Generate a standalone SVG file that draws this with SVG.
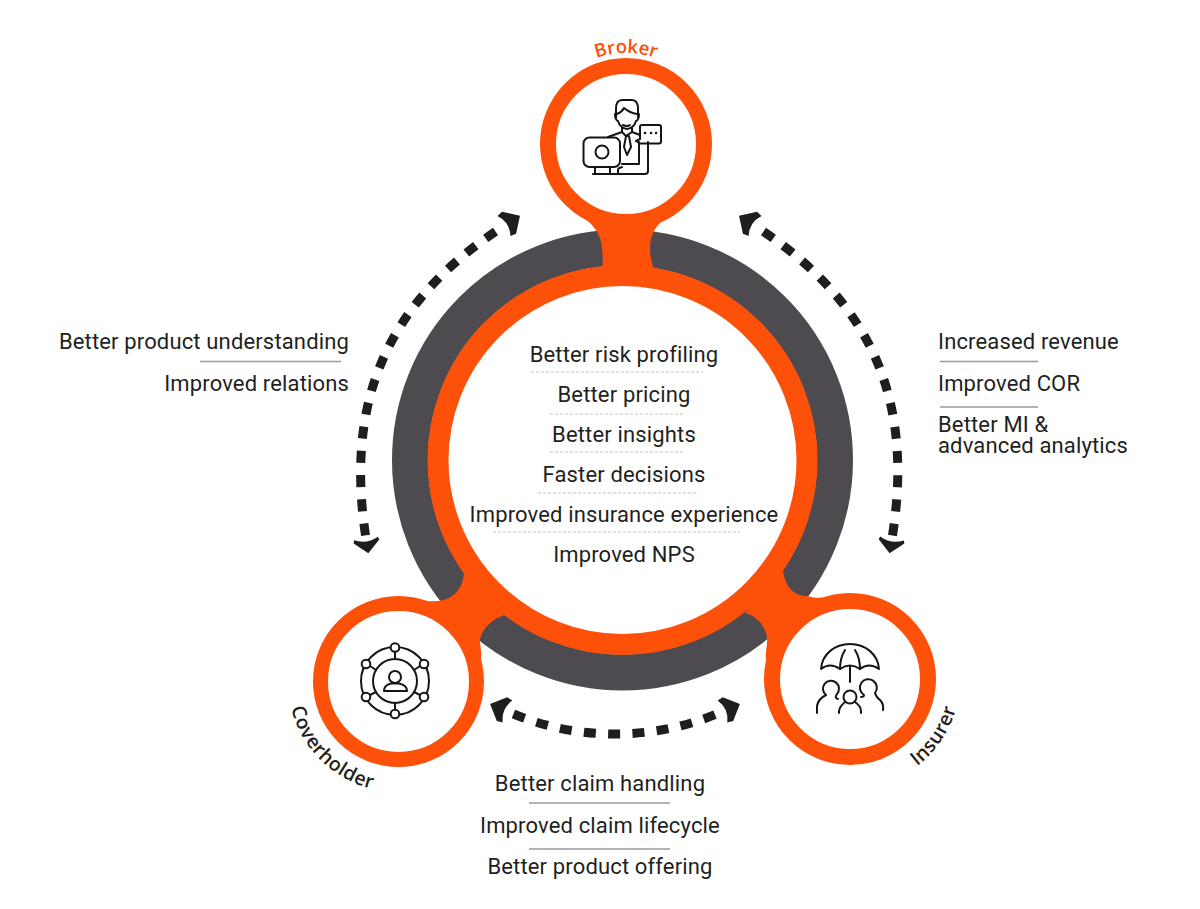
<svg xmlns="http://www.w3.org/2000/svg" width="1200" height="909" viewBox="0 0 1200 909">
<style>
text{font-family:Roboto,"Liberation Sans",sans-serif;font-size:22px;fill:#1f1f21;letter-spacing:.15px}
.c{text-anchor:middle}.e{text-anchor:end}
.lab{font-family:"Open Sans","Liberation Sans",sans-serif;font-size:19.500px;font-weight:600;text-anchor:middle;letter-spacing:.4px}
.rule{stroke:#9a999c;stroke-width:1.6;fill:none}
.dot{stroke:#c4c4c4;stroke-width:1;stroke-dasharray:3 2;fill:none}
.ico{fill:none;stroke:#151515;stroke-width:2;stroke-linecap:round;stroke-linejoin:round}
.ring{fill:#fff;stroke:#fd5009}
.neck{fill:#fd5009}
.flow{fill:none;stroke:#1f1d1e;stroke-width:9;stroke-dasharray:12 12.300;marker-start:url(#head);marker-end:url(#head)}
.flow.down{marker-end:url(#headS)}
</style>
<defs>
<marker id="head" markerUnits="userSpaceOnUse" markerWidth="36" markerHeight="34" viewBox="-8 -17 36 34" refX="0" refY="0" orient="auto-start-reverse">
<path d="M0,-12 L6,-13 L19,0 L6,13 L0,12 Q7,0 0,-12Z" fill="#1f1d1e"/>
</marker>
<marker id="headS" markerUnits="userSpaceOnUse" markerWidth="36" markerHeight="34" viewBox="-8 -17 36 34" refX="0" refY="0" orient="auto-start-reverse">
<path d="M0,-12 L3,-13 L15,0 L3,13 L0,12 Q6,0 0,-12Z" fill="#1f1d1e"/>
</marker>
<path id="pb" d="M535,144 A91,91 0 0 1 717,144"/>
<path id="pc" d="M288,682 A110,110 0 0 0 398,792"/>
<path id="pi" d="M869.100,787.300 A110,110 0 0 0 957.600,656.100"/>
</defs>

<g id="hub">
<circle cx="622.500" cy="460" r="212.500" fill="none" stroke="#4d4b4f" stroke-width="36"/>
<path class="neck" d="M583,217 C594,225 602,236 602,249 C603,256 603,263 602,270 L654,270 C652,263 650,256 650,249 C650,236 654,228 664,219Z"/>
<path class="neck" d="M423,600 C428,602 432,601 437,601 C452,600 464,590 464,570 L507,615 C495,616 482,628 480,640 C480,646 482,652 481,660Z"/>
<path class="neck" d="M823,597 C818,599 812,597 807,596 C795,596 785,588 783,570 L745,613 C757,616 765,626 767,637 C768,645 765,650 766,660Z"/>
<circle cx="622.500" cy="460" r="184.500" fill="#fff" stroke="#fd5009" stroke-width="21"/>
</g>

<g id="connectors">
<path class="flow down" stroke-dashoffset="-10" d="M504,226 C386.400,301.600 344.600,401.400 366,538.500"/>
<path class="flow down" stroke-dashoffset="-10" d="M755,226 C872.600,301.600 914.400,401.400 892,538.500"/>
<path class="flow" stroke-dashoffset="-6.500" d="M507.500,711.500 A268,268 0 0 0 722.500,711.500"/>
</g>

<g id="broker">
<circle class="ring" cx="626" cy="144" r="78" stroke-width="16"/>
<text class="lab" style="fill:#fd5009;font-size:18.500px;letter-spacing:0"><textPath href="#pb" startOffset="50%">Broker</textPath></text>
<g class="ico">
<rect x="583.500" y="137.500" width="36.500" height="29.500" rx="6"/>
<circle cx="602" cy="152" r="6.500"/>
<path d="M595,167 V174 M610,167 V174 M593,174 H645 Q648,174 648,171 V142 M639,142 V164 H622 M618,174 V170 Q618,168 622,167"/>
<path d="M640,139 L636,141 L640,143.500 H659 Q661,143.500 661,141.500 V127 Q661,125 659,125 H642 Q640,125 640,127Z"/>
<path d="M645,133 h.1 M651,133 h.1 M656,133 h.1" stroke-width="2.500"/>
<path d="M616,118 V109 Q616,100 622,100 H632 Q638,100 638,109 V118 M617,114 Q622,112 624,108 Q630,113 637,114 M615,114 Q615,120 618,121 Q620,128 627,129 Q634,128 636,121 Q639,120 639,114"/>
<path d="M622,128 V132 L608,137 M632,128 V132 L640,135 M622,132 L626,136 L632,132 M626,136 L624,147 L627,155 L631,147 L629,136 M626,136 H629 M623,125 Q627,127 630,125"/>
</g>
</g>

<g id="coverholder">
<circle class="ring" cx="398.500" cy="681.500" r="78" stroke-width="15"/>
<text class="lab" style="fill:#1f1f21"><textPath href="#pc" startOffset="50%">Coverholder</textPath></text>
<g class="ico">
<circle cx="395" cy="681" r="34"/>
<circle cx="395" cy="681" r="22"/>
<path d="M395,651 V659 M395,703 V710 M370,666 L376,670 M420,666 L414,670 M370,695 L376,692 M420,695 L414,692"/>
<g style="fill:#fff">
<circle cx="395" cy="647.500" r="4.300"/><circle cx="424" cy="664" r="4.300"/><circle cx="424" cy="697" r="4.300"/>
<circle cx="395" cy="714" r="4.300"/><circle cx="366" cy="697" r="4.300"/><circle cx="366" cy="664" r="4.300"/>
</g>
<circle cx="395" cy="677" r="6"/>
<path d="M384,691 Q384,685 391,683.500 H399 Q407,685 407,691Z"/>
</g>
</g>

<g id="insurer">
<circle class="ring" cx="850" cy="679" r="78" stroke-width="16"/>
<text class="lab" style="fill:#1f1f21"><textPath href="#pi" startOffset="50%">Insurer</textPath></text>
<g class="ico">
<path d="M821,669 C822,654 835,644 850,644 C865,644 878,654 879,669 Q869,662 860,669 Q850,662 840,669 Q830,662 821,669Z"/>
<path d="M845,650 Q840,658 840,669 M855,650 Q860,658 860,669 M850,666 V682"/>
<path d="M826,695 A8,8 0 1 1 837,694 Q834,698 838,699"/>
<path d="M864,695 A8.500,8.500 0 1 1 875,693 Q876,697 880,700 Q884,704 883,710 M864,695 Q864,697 861,697"/>
<circle cx="850" cy="697" r="6.500"/>
<path d="M817,713 V706 Q818,699 826,695"/>
<path d="M839,713 V711 Q840,706 845,702 M855,702 Q861,706 861,711 V713"/>
</g>
</g>

<g id="benefits-centre">
<text class="c" x="624" y="362">Better risk profiling</text>
<path class="dot" d="M531,372H703"/>
<text class="c" x="624" y="402">Better pricing</text>
<path class="dot" d="M550,414H683"/>
<text class="c" x="624" y="442">Better insights</text>
<path class="dot" d="M550,452H683"/>
<text class="c" x="624" y="482">Faster decisions</text>
<path class="dot" d="M538,493H697"/>
<text class="c" x="624" y="522">Improved insurance experience</text>
<path class="dot" d="M493,532H740"/>
<text class="c" x="624" y="562">Improved NPS</text>
</g>

<g id="benefits-left">
<text class="e" x="349" y="349">Better product understanding</text>
<path class="rule" d="M200,361.500H341"/>
<text class="e" x="349" y="391">Improved relations</text>
</g>

<g id="benefits-right">
<text x="938" y="349">Increased revenue</text>
<path class="rule" d="M940,361.500H1038"/>
<text x="938" y="391">Improved COR</text>
<path class="rule" d="M940,407H1038"/>
<text x="938" y="432">Better MI &amp;</text>
<text x="938" y="453">advanced analytics</text>
</g>

<g id="benefits-bottom">
<text class="c" x="600" y="791">Better claim handling</text>
<path class="rule" d="M529,803H670"/>
<text class="c" x="600" y="833">Improved claim lifecycle</text>
<path class="rule" d="M529,849H670"/>
<text class="c" x="600" y="874">Better product offering</text>
</g>
</svg>
